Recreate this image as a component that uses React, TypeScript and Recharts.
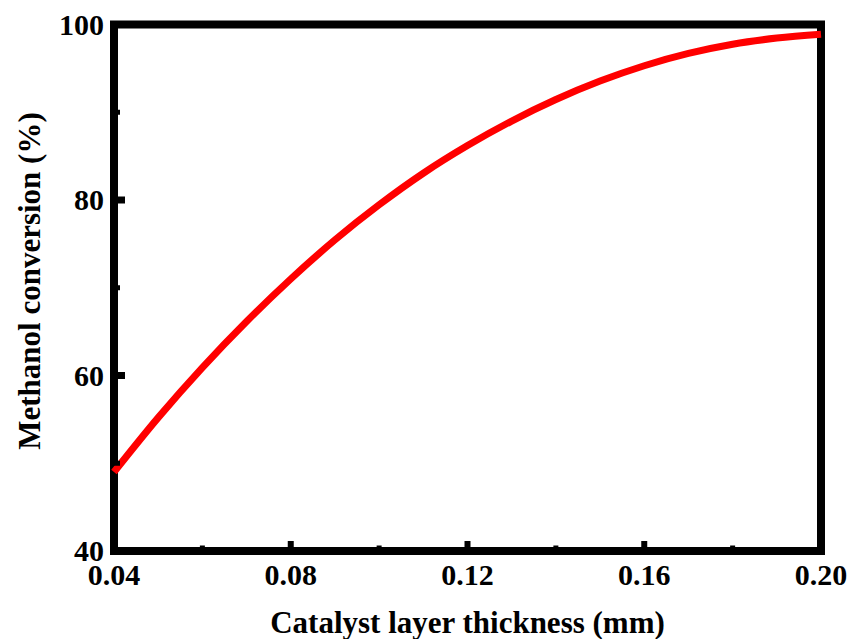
import { LineChart, Line, XAxis, YAxis, ReferenceArea } from "recharts"

// catalyst layer thickness (mm) and the resulting methanol conversion (%)
const thickness = [0.04, 0.05, 0.06, 0.07, 0.08, 0.09, 0.1, 0.11, 0.12, 0.13, 0.14, 0.15, 0.16, 0.17, 0.18, 0.19, 0.2]
const conversion = [49.0, 55.2, 60.9, 66.15, 71.0, 75.45, 79.45, 83.05, 86.2, 89.0, 91.45, 93.55, 95.3, 96.7, 97.75, 98.45, 98.9]

const xTicks = [0.04, 0.06, 0.08, 0.1, 0.12, 0.14, 0.16, 0.18, 0.2]
const xLabelled = [0.04, 0.08, 0.12, 0.16, 0.2]
const yTicks = [40, 50, 60, 70, 80, 90, 100]
const yLabelled = [40, 60, 80, 100]

const data = thickness.map((t, i) => ({ t, c: conversion[i] }))

const FONT = "'Liberation Serif', 'Times New Roman', serif"

const XTick = ({ x, y, payload }: any) => {
    const major = xLabelled.includes(payload.value)
    return (
        <g>
            <line x1={x} x2={x} y1={y} y2={y - (major ? 10 : 5.5)} stroke="#000" strokeWidth={major ? 6 : 5} />
            {major && (
                <text x={x} y={y + 34} textAnchor="middle" fontFamily={FONT} fontWeight="bold" fontSize={30} fill="#000">
                    {payload.value.toFixed(2)}
                </text>
            )}
        </g>
    )
}

const YTick = ({ x, y, payload }: any) => {
    const major = yLabelled.includes(payload.value)
    return (
        <g>
            <line x1={x} x2={x + (major ? 11 : 6)} y1={y} y2={y} stroke="#000" strokeWidth={major ? 7 : 5} />
            {major && (
                <text x={x - 10} y={y + 10} textAnchor="end" fontFamily={FONT} fontWeight="bold" fontSize={30} fill="#000">
                    {payload.value}
                </text>
            )}
        </g>
    )
}

export default function App() {
    return (
        <div style={{ position: "absolute", left: 0, top: 0, width: 850, height: 639, background: "#fff" }}>
            <LineChart width={850} height={639} data={data} margin={{ top: 24.5, right: 29, left: 14, bottom: 0 }}>
                <XAxis
                    dataKey="t"
                    type="number"
                    domain={[0.04, 0.2]}
                    ticks={xTicks}
                    interval={0}
                    height={88}
                    axisLine={false}
                    tickLine={false}
                    tickSize={0}
                    tickMargin={0}
                    tick={<XTick />}
                    label={{
                        value: "Catalyst layer thickness (mm)",
                        position: "insideBottom",
                        offset: 6,
                        style: { fontFamily: FONT, fontWeight: "bold", fontSize: 31, fill: "#000" },
                    }}
                />
                <YAxis
                    type="number"
                    domain={[40, 100]}
                    ticks={yTicks}
                    interval={0}
                    width={100}
                    axisLine={false}
                    tickLine={false}
                    tickSize={0}
                    tickMargin={0}
                    tick={<YTick />}
                    label={{
                        content: () => (
                            <text
                                x={40}
                                y={281}
                                transform="rotate(-90, 40, 281)"
                                textAnchor="middle"
                                fontFamily={FONT}
                                fontWeight="bold"
                                fontSize={31}
                                fill="#000"
                            >
                                Methanol conversion (%)
                            </text>
                        ),
                    }}
                />
                {/* closed frame around the plot area */}
                <ReferenceArea x1={0.04} x2={0.2} y1={40} y2={100} fill="none" stroke="#000" strokeWidth={8} fillOpacity={0} strokeOpacity={1} />
                <Line
                    type="monotone"
                    dataKey="c"
                    stroke="#ff0000"
                    strokeWidth={7}
                    dot={false}
                    activeDot={false}
                    isAnimationActive={false}
                />
            </LineChart>
        </div>
    )
}
